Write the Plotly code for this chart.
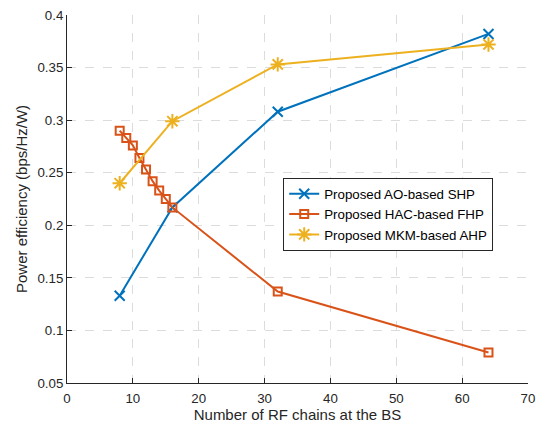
import plotly.graph_objects as go

# Data
x_ao = [8, 16, 32, 64]
y_ao = [0.133, 0.217, 0.308, 0.382]

x_hac = [8, 9, 10, 11, 12, 13, 14, 15, 16, 32, 64]
y_hac = [0.290, 0.283, 0.276, 0.264, 0.253, 0.242, 0.233, 0.225, 0.217, 0.137, 0.079]

x_mkm = [8, 16, 32, 64]
y_mkm = [0.240, 0.299, 0.353, 0.372]

x_ticks = [0, 10, 20, 30, 40, 50, 60, 70]
y_ticks = [0.05, 0.1, 0.15, 0.2, 0.25, 0.3, 0.35, 0.4]
y_ticktext = ["0.05", "0.1", "0.15", "0.2", "0.25", "0.3", "0.35", "0.4"]

names = ["Proposed AO-based SHP", "Proposed HAC-based FHP", "Proposed MKM-based AHP"]

FONT = "Liberation Sans, Arial, sans-serif"

fig = go.Figure()
fig.add_trace(go.Scatter(x=x_ao, y=y_ao, mode="lines+markers", name=names[0],
                         line=dict(color="#0072BD", width=2),
                         marker=dict(symbol="x-thin-open", size=10, line=dict(color="#0072BD", width=2))))
fig.add_trace(go.Scatter(x=x_hac, y=y_hac, mode="lines+markers", name=names[1],
                         line=dict(color="#D95319", width=2),
                         marker=dict(symbol="square-open", size=8, color="#D95319", line=dict(color="#D95319", width=2))))
fig.add_trace(go.Scatter(x=x_mkm, y=y_mkm, mode="lines+markers", name=names[2],
                         line=dict(color="#EDB120", width=2),
                         marker=dict(symbol="asterisk-open", size=12, line=dict(color="#EDB120", width=2))))

axis_common = dict(
    showgrid=True, gridcolor="#dcdcdc", griddash="dash", gridwidth=1,
    showline=True, linecolor="#262626", linewidth=1, mirror=False,
    ticks="inside", ticklen=5, tickcolor="#262626",
    tickfont=dict(family=FONT, size=13.3, color="#262626"),
    zeroline=False,
)

fig.update_xaxes(range=[0, 70], tickvals=x_ticks, ticklabelstandoff=3,
                 title=dict(text="Number of RF chains at the BS",
                            font=dict(family=FONT, size=15, color="#262626"),
                            standoff=4),
                 **axis_common)
fig.update_yaxes(range=[0.05, 0.4], tickvals=y_ticks, ticktext=y_ticktext,
                 title=dict(text="Power efficiency (bps/Hz/W)",
                            font=dict(family=FONT, size=15, color="#262626"),
                            standoff=6),
                 **axis_common)

fig.update_layout(
    width=543, height=428,
    margin=dict(l=67, r=8, t=13, b=45),
    paper_bgcolor="white", plot_bgcolor="white",
    showlegend=True,
    legend=dict(x=0.469, y=0.558, xanchor="left", yanchor="top",
                bgcolor="white", bordercolor="#262626", borderwidth=1,
                font=dict(family=FONT, size=13.3, color="#000000"),
                tracegroupgap=0, itemwidth=30),
)

fig.write_html("out.html")
